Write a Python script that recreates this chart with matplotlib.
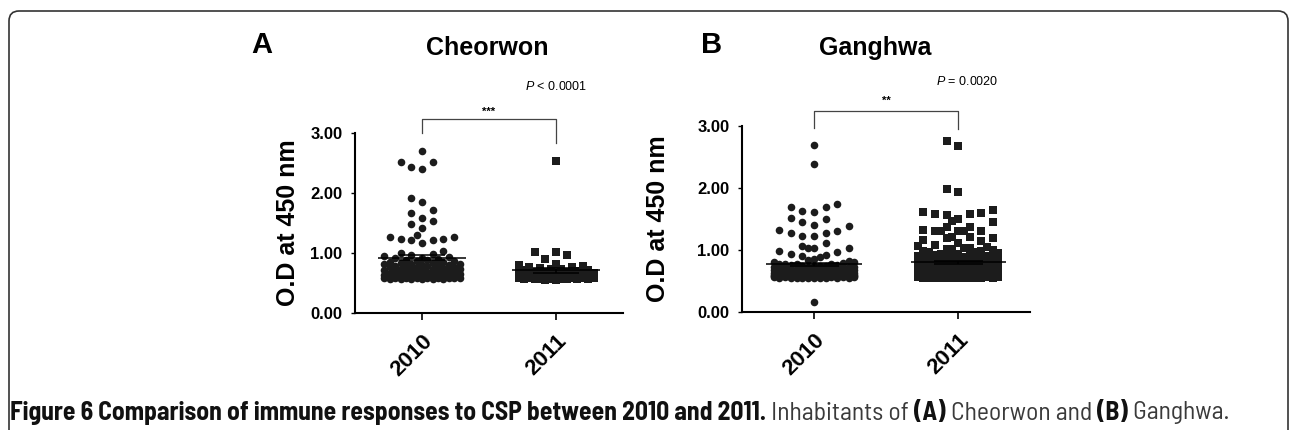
"""Figure 6: CSP immune responses, 2010 vs 2011, Cheorwon and Ganghwa."""
import numpy as np
import matplotlib.pyplot as plt
from matplotlib.patches import FancyBboxPatch
from matplotlib.transforms import IdentityTransform

plt.rcParams['font.family'] = 'Liberation Sans'
plt.rcParams['mathtext.fontset'] = 'custom'
plt.rcParams['mathtext.rm'] = 'Liberation Sans'
plt.rcParams['mathtext.it'] = 'Liberation Sans:italic'

# Data (O.D at 450 nm)
years = ['2010', '2011']
cheorwon_2010 = [
    2.70, 2.52, 2.52, 2.43, 2.40, 1.91, 1.85, 1.72, 1.66, 1.58, 1.54, 1.48,
    1.42, 1.30, 1.27, 1.26, 1.23, 1.23, 1.22, 1.21, 1.17, 1.03, 1.00,
    0.99, 0.97, 0.95, 0.93, 0.92, 0.91, 0.90, 0.89, 0.88, 0.87, 0.86, 0.85,
    0.85, 0.84, 0.83, 0.82, 0.82, 0.81, 0.80, 0.80, 0.79, 0.79, 0.78, 0.78,
    0.77, 0.76, 0.76, 0.75, 0.74, 0.74, 0.73, 0.73, 0.72, 0.72, 0.71, 0.71,
    0.70, 0.70, 0.69, 0.68, 0.68, 0.67, 0.67, 0.66, 0.66, 0.66, 0.65, 0.65,
    0.64, 0.63, 0.63, 0.63, 0.62, 0.62, 0.62, 0.61, 0.61, 0.61, 0.60, 0.60,
    0.60, 0.60, 0.59, 0.59, 0.59, 0.59, 0.58, 0.58, 0.58, 0.58, 0.58, 0.57,
    0.57, 0.57, 0.57, 0.56, 0.56]
cheorwon_2011 = [
    2.54, 1.02, 1.01, 0.97, 0.90, 0.82, 0.80,
    0.78, 0.77, 0.76, 0.75, 0.74, 0.73, 0.72, 0.71, 0.70, 0.69, 0.68, 0.68,
    0.67, 0.67, 0.66, 0.66, 0.65, 0.65, 0.64, 0.64, 0.63, 0.63, 0.62, 0.62,
    0.61, 0.61, 0.60, 0.60, 0.59, 0.59, 0.58, 0.58, 0.58, 0.57, 0.57, 0.57,
    0.57, 0.57, 0.56, 0.56, 0.56, 0.55, 0.55]
ganghwa_2010 = [
    2.69, 2.38, 1.74, 1.70, 1.69, 1.63, 1.62, 1.52, 1.50, 1.45, 1.41, 1.39,
    1.33, 1.30, 1.28, 1.27, 1.23, 1.23, 1.11, 1.06, 1.04, 1.04, 1.03, 0.16,
    0.98, 0.96, 0.94, 0.92, 0.90, 0.88, 0.86, 0.84, 0.82, 0.81, 0.80, 0.79,
    0.78, 0.78, 0.77, 0.77, 0.76, 0.76, 0.75, 0.75, 0.74, 0.74, 0.73, 0.73,
    0.72, 0.72, 0.72, 0.71, 0.71, 0.71, 0.70, 0.70, 0.70, 0.69, 0.69, 0.69,
    0.68, 0.68, 0.68, 0.67, 0.67, 0.67, 0.67, 0.66, 0.66, 0.66, 0.66, 0.65,
    0.65, 0.65, 0.65, 0.64, 0.64, 0.64, 0.64, 0.63, 0.63, 0.63, 0.63, 0.63,
    0.62, 0.62, 0.62, 0.62, 0.62, 0.61, 0.61, 0.61, 0.61, 0.61,
    0.60, 0.60, 0.60, 0.60, 0.60, 0.60, 0.60, 0.60, 0.60, 0.60,
    0.59, 0.59, 0.59, 0.59, 0.59, 0.59, 0.59, 0.59, 0.59, 0.59,
    0.58, 0.58, 0.58, 0.58, 0.58, 0.58, 0.58, 0.58, 0.58, 0.58,
    0.57, 0.57, 0.57, 0.57, 0.57, 0.57, 0.57, 0.57, 0.57, 0.57,
    0.56, 0.56, 0.56, 0.56, 0.56, 0.56, 0.56, 0.56, 0.56, 0.56,
    0.55, 0.55, 0.55, 0.55, 0.55, 0.55, 0.55, 0.55, 0.55, 0.55]
ganghwa_2011 = [
    2.76, 2.67, 1.98, 1.94, 1.65, 1.62, 1.59, 1.58, 1.58, 1.56, 1.50, 1.46,
    1.45, 1.37, 1.37, 1.32, 1.31, 1.31, 1.30, 1.30, 1.30, 1.21, 1.21, 1.19,
    1.19, 1.16, 1.15, 1.11,
    1.08, 1.06, 1.05, 1.04, 1.03, 1.02, 1.01, 1.00, 0.99, 0.98, 0.97, 0.96,
    0.95, 0.94, 0.93, 0.92, 0.91, 0.90, 0.90, 0.89, 0.89, 0.88, 0.88, 0.87,
    0.87, 0.86, 0.86, 0.85, 0.85, 0.84, 0.84, 0.83, 0.83, 0.82, 0.82, 0.81,
    0.81, 0.80, 0.80, 0.80, 0.79, 0.79, 0.79, 0.78, 0.78, 0.78, 0.77, 0.77,
    0.77, 0.76, 0.76, 0.76, 0.75, 0.75, 0.75, 0.74, 0.74, 0.74, 0.73, 0.73,
    0.73, 0.72, 0.72, 0.72, 0.71, 0.71, 0.71, 0.70, 0.70, 0.70, 0.70, 0.69,
    0.69, 0.69, 0.69, 0.68, 0.68, 0.68, 0.68, 0.67, 0.67, 0.67, 0.67, 0.66,
    0.66, 0.66, 0.66, 0.65, 0.65, 0.65, 0.65, 0.64, 0.64, 0.64, 0.64, 0.63,
    0.63, 0.63, 0.63, 0.62, 0.62, 0.62, 0.62, 0.61, 0.61, 0.61, 0.61, 0.61,
    0.60, 0.60, 0.60, 0.60, 0.60, 0.60, 0.60, 0.60, 0.60, 0.60, 0.60, 0.60,
    0.59, 0.59, 0.59, 0.59, 0.59, 0.59, 0.59, 0.59, 0.59, 0.59, 0.59, 0.59,
    0.58, 0.58, 0.58, 0.58, 0.58, 0.58, 0.58, 0.58, 0.58, 0.58, 0.58, 0.58,
    0.57, 0.57, 0.57, 0.57, 0.57, 0.57, 0.57, 0.57, 0.57, 0.57, 0.57, 0.57,
    0.56, 0.56, 0.56, 0.56, 0.56, 0.56, 0.56, 0.56, 0.56, 0.56, 0.56, 0.56,
    0.55, 0.55, 0.55, 0.55, 0.55, 0.55, 0.55, 0.55, 0.55, 0.55, 0.55, 0.55]
p_text = [r'$\mathit{P}$ < 0.0001', r'$\mathit{P}$ = 0.0020']
stars = ['***', '**']

INK = '#1c1c1c'


def slot_offsets(vals, step=0.08, kmax=3, dy=0.16):
    """Prism-like column scatter: each point takes the most central free slot;
    when all are taken, half-slots are tried, then the largest vertical gap."""
    v = np.asarray(vals, float)
    main = [0]
    for k in range(1, kmax + 1):
        main += [-k, k]
    half = []
    for k in range(kmax + 1):
        half += [-(k + 0.5), k + 0.5]
    prefs = main + half
    placed = {k: [] for k in prefs}
    x = np.zeros(len(v))
    for i in np.argsort(v, kind='stable'):
        best_k, best_gap = prefs[0], -1.0
        for k in prefs:
            gap = min((abs(v[i] - y) for y in placed[k]), default=np.inf)
            if gap >= dy:
                best_k = k
                break
            if gap > best_gap + 1e-9:
                best_k, best_gap = k, gap
        placed[best_k].append(v[i])
        x[i] = best_k * step
    return x


def draw_panel(ax, groups, ptxt, star, p_x, p_y, star_y, br_y, legs, label_x):
    for i, (vals, m) in enumerate(zip(groups, ['o', 's'])):
        vals = np.asarray(vals)
        ax.scatter(i + slot_offsets(vals), vals, marker=m, s=30, c=INK,
                   linewidths=0, zorder=3, clip_on=False)
        mean = vals.mean()
        sem = vals.std(ddof=1) / np.sqrt(len(vals))
        ax.hlines(mean, i - 0.33, i + 0.33, color='black', lw=1.1, zorder=4)
        ax.hlines([mean - sem, mean + sem], i - 0.17, i + 0.17, color='black', lw=1.1, zorder=4)
        ax.vlines(i, mean - sem, mean + sem, color='black', lw=1.1, zorder=4)

    # significance bracket
    ax.plot([0, 0, 1, 1], [legs[0], br_y, br_y, legs[1]], color='#444444', lw=0.9,
            clip_on=False)
    ax.text(0.5, star_y, star, ha='center', va='center', fontsize=8, fontweight='bold')
    ax.text(p_x, p_y, ptxt, ha='center', va='center', fontsize=9)

    ax.set_xlim(-0.5, 1.5)
    ax.set_ylim(0, 3)
    ax.set_yticks([0, 1, 2, 3])
    ax.set_yticklabels(['0.00', '1.00', '2.00', '3.00'], fontsize=12, fontweight='bold')
    ax.set_xticks([0, 1])
    ax.set_xticklabels(years, fontsize=16, fontweight='bold', rotation=45,
                       ha='right', va='top', rotation_mode='anchor')
    ax.tick_params(axis='y', length=3, width=1, pad=6)
    ax.tick_params(axis='x', length=5, width=1.2, pad=8)
    for side in ['top', 'right']:
        ax.spines[side].set_visible(False)
    for side in ['left', 'bottom']:
        ax.spines[side].set_linewidth(1.5)
    ax.set_ylabel('O.D at 450 nm', fontsize=18, fontweight='bold')
    ax.yaxis.set_label_coords(label_x, 0.5)


W, H = 1290, 430
fig = plt.figure(figsize=(W / 100, H / 100), dpi=100)

ax_a = fig.add_axes([0.2752, 0.2721, 0.2078, 0.4186])
draw_panel(ax_a, [cheorwon_2010, cheorwon_2011], p_text[0], stars[0],
           p_x=1.0, p_y=3.77, star_y=3.36, br_y=3.23, legs=(3.0, 2.83), label_x=-0.205)

ax_b = fig.add_axes([0.5752, 0.2744, 0.2233, 0.4326])
draw_panel(ax_b, [ganghwa_2010, ganghwa_2011], p_text[1], stars[1],
           p_x=1.06, p_y=3.71, star_y=3.40, br_y=3.24, legs=(2.97, 2.95), label_x=-0.25)

# titles and panel letters
fig.text(487 / W, 1 - 48 / H, 'Cheorwon', ha='center', va='center', fontsize=18, fontweight='bold')
fig.text(875 / W, 1 - 48 / H, 'Ganghwa', ha='center', va='center', fontsize=18, fontweight='bold')
fig.text(262 / W, 1 - 45 / H, 'A', ha='center', va='center', fontsize=21, fontweight='bold')
fig.text(712 / W, 1 - 45 / H, 'B', ha='center', va='center', fontsize=21, fontweight='bold')

# rounded frame round the figure (open at the bottom)
frame = FancyBboxPatch((9, -30), 1279, H - 11 + 30, boxstyle='round,pad=0,rounding_size=10',
                       transform=IdentityTransform(), fill=False, ec='#333333', lw=1.2)
fig.add_artist(frame)

# caption, laid out piece by piece
caption = [
    ('Figure 6 Comparison of immune responses to CSP between 2010 and 2011.', 'bold', '#111111'),
    (' Inhabitants of ', 'normal', '#3a3a3a'),
    ('(A)', 'bold', '#111111'),
    (' Cheorwon and ', 'normal', '#3a3a3a'),
    ('(B)', 'bold', '#111111'),
    (' Ganghwa.', 'normal', '#3a3a3a'),
]
cap_family = ['Barlow Semi Condensed', 'Asap Condensed']
renderer = fig.canvas.get_renderer()


def put_caption(size):
    x = 10
    made = []
    for s, wt, col in caption:
        t = fig.text(x / W, 1 - 413 / H, s, ha='left', va='center', fontsize=size,
                     fontweight=wt, color=col, family=cap_family)
        x += t.get_window_extent(renderer).width
        made.append(t)
    return made, x - 10


made, width = put_caption(14)
for t in made:
    t.remove()
put_caption(14 * 1222 / width)

fig.savefig('out.png', dpi=100)
